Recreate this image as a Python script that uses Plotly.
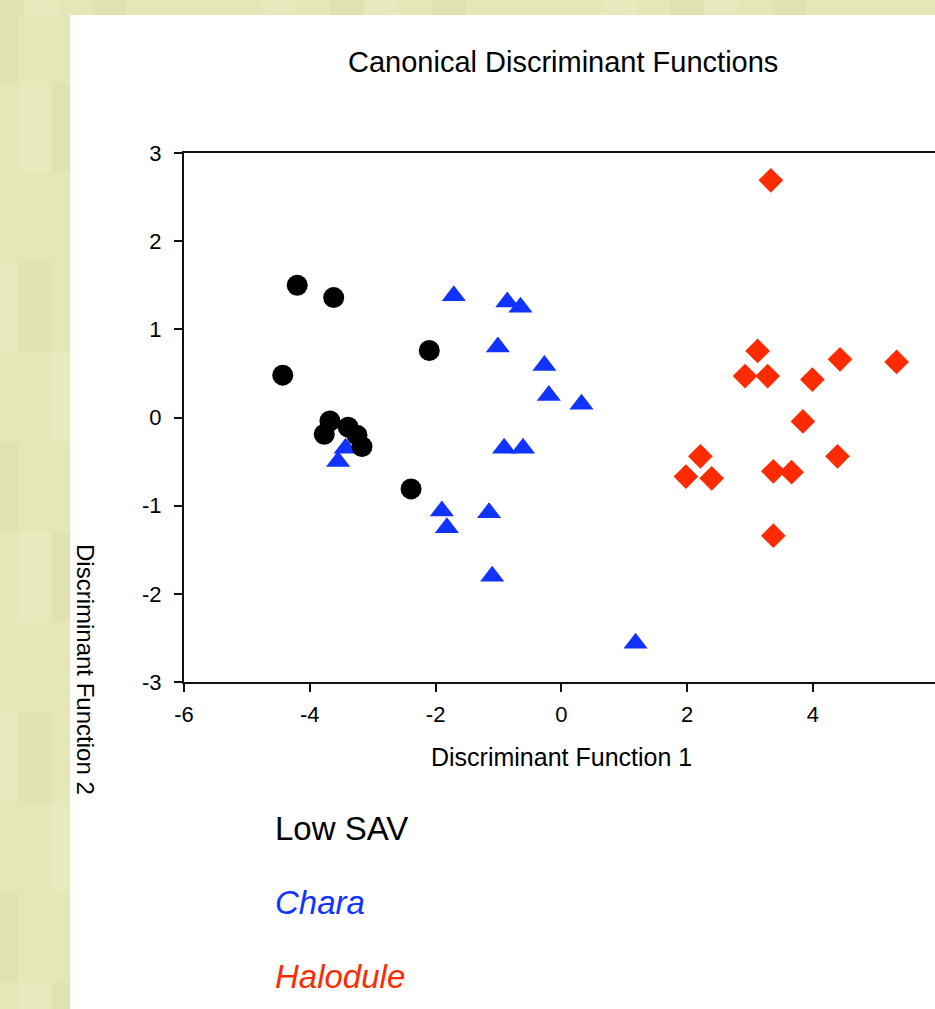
import plotly.graph_objects as go

# ---------------- data ----------------
groups = ["Low SAV", "Chara", "Halodule"]

low_sav_x = [-4.20, -3.62, -2.10, -4.43, -3.68, -3.77, -3.39, -3.25, -3.17, -2.39]
low_sav_y = [1.50, 1.36, 0.76, 0.48, -0.04, -0.19, -0.11, -0.20, -0.33, -0.81]

chara_x = [-1.71, -0.86, -0.65, -1.01, -0.27, -0.20, 0.32, -0.91, -0.61,
           -3.43, -3.55, -1.90, -1.82, -1.15, -1.10, 1.18]
chara_y = [1.38, 1.31, 1.25, 0.80, 0.59, 0.25, 0.15, -0.35, -0.35,
           -0.35, -0.50, -1.06, -1.25, -1.08, -1.80, -2.56]

halodule_x = [3.33, 3.12, 2.92, 3.28, 3.99, 4.43, 5.33, 3.84,
              2.21, 1.98, 2.39, 3.37, 3.66, 4.39, 3.37]
halodule_y = [2.69, 0.755, 0.47, 0.47, 0.43, 0.66, 0.63, -0.045,
              -0.44, -0.67, -0.69, -0.61, -0.62, -0.44, -1.34]

x_ticks = [-6, -4, -2, 0, 2, 4, 6]
y_ticks = [-3, -2, -1, 0, 1, 2, 3]

title_text = "Canonical Discriminant Functions"
x_title = "Discriminant Function 1"
y_title = "Discriminant Function 2"

# ---------------- style ----------------
FONT = "Arial, Liberation Sans, sans-serif"
BLACK = "#000000"
BLUE = "#1033ff"
RED = "#ff2b00"
BEIGE = "#e5e7b8"

W, H = 935, 1009
ML, MR, MT, MB = 184, 0, 153, 327
PW, PH = W - ML - MR, H - MT - MB


def px_to_paper_x(px):
    return (px - ML) / PW


def px_to_paper_y(py):
    return (H - MB - py) / PH


fig = go.Figure()

fig.add_trace(go.Scatter(
    x=chara_x, y=chara_y, mode="markers", name=groups[1],
    marker=dict(symbol="triangle-up", size=21, color=BLUE, line=dict(width=0)),
))
fig.add_trace(go.Scatter(
    x=halodule_x, y=halodule_y, mode="markers", name=groups[2],
    marker=dict(symbol="diamond", size=19, color=RED, line=dict(width=0)),
))
fig.add_trace(go.Scatter(
    x=low_sav_x, y=low_sav_y, mode="markers", name=groups[0],
    marker=dict(symbol="circle", size=21, color=BLACK, line=dict(width=0)),
))

# background decoration: subtle beige checker on the left strip and top strip, white panel
shapes = []
cell_w, cell_h = 34, 30
for i in range(0, 3):
    for j in range(0, 35):
        v = (i * 7 + j * 5 + (j // 3)) % 5
        if v == 0:
            col = "#e0e2b1"
        elif v == 3:
            col = "#e8eabd"
        else:
            continue
        x0, y0 = i * cell_w - 16, j * cell_h - 8
        shapes.append(dict(type="rect", xref="paper", yref="paper",
                           x0=px_to_paper_x(x0), x1=px_to_paper_x(x0 + cell_w),
                           y0=px_to_paper_y(y0 + cell_h), y1=px_to_paper_y(y0),
                           fillcolor=col, line=dict(width=0), layer="below"))
for i in range(0, 29):
    v = (i * 3 + i // 2) % 5
    if v == 0:
        col = "#e0e2b1"
    elif v == 3:
        col = "#e8eabd"
    else:
        continue
    x0 = i * cell_w - 10
    shapes.append(dict(type="rect", xref="paper", yref="paper",
                       x0=px_to_paper_x(x0), x1=px_to_paper_x(x0 + cell_w),
                       y0=px_to_paper_y(15), y1=px_to_paper_y(-10),
                       fillcolor=col, line=dict(width=0), layer="below"))
shapes.append(dict(type="rect", xref="paper", yref="paper",
                   x0=px_to_paper_x(70), x1=px_to_paper_x(W + 10),
                   y0=px_to_paper_y(H + 10), y1=px_to_paper_y(15),
                   fillcolor="white", line=dict(width=0), layer="below"))

annotations = [
    dict(text=title_text, xref="paper", yref="paper",
         x=px_to_paper_x(562.5), y=px_to_paper_y(62), xanchor="center", yanchor="middle",
         showarrow=False, font=dict(family=FONT, size=29, color="black")),
    dict(text=x_title, xref="paper", yref="paper",
         x=px_to_paper_x(561.5), y=px_to_paper_y(757), xanchor="center", yanchor="middle",
         showarrow=False, font=dict(family=FONT, size=25, color="black")),
    dict(text=y_title, xref="paper", yref="paper", textangle=90,
         x=px_to_paper_x(86), y=px_to_paper_y(669), xanchor="center", yanchor="middle",
         showarrow=False, font=dict(family=FONT, size=24, color="black")),
]
legend_colors = [BLACK, BLUE, RED]
legend_y = [828, 902, 976]
for k, g in enumerate(groups):
    txt = g if k == 0 else "<i>" + g + "</i>"
    annotations.append(dict(text=txt, xref="paper", yref="paper",
                            x=px_to_paper_x(273), y=px_to_paper_y(legend_y[k]),
                            xanchor="left", yanchor="middle", showarrow=False,
                            font=dict(family=FONT, size=33, color=legend_colors[k])))

fig.update_layout(
    width=W, height=H,
    margin=dict(l=ML, r=MR, t=MT, b=MB, pad=0),
    paper_bgcolor=BEIGE, plot_bgcolor="white",
    showlegend=False,
    shapes=shapes, annotations=annotations,
    font=dict(family=FONT, size=22, color="black"),
)
fig.update_xaxes(
    range=[-6, 5.94], tickmode="array", tickvals=x_ticks, ticktext=[str(t) for t in x_ticks],
    showgrid=False, zeroline=False, showline=True, linecolor="#111", linewidth=2,
    mirror=True, ticks="outside", ticklen=8, tickwidth=1.5, tickcolor="#111",
    tickfont=dict(family=FONT, size=22, color="black"), ticklabelstandoff=4,
)
fig.update_yaxes(
    range=[-3, 3], tickmode="array", tickvals=y_ticks, ticktext=[str(t) for t in y_ticks],
    showgrid=False, zeroline=False, showline=True, linecolor="#111", linewidth=2,
    ticks="outside", ticklen=8, tickwidth=1.5, tickcolor="#111",
    tickfont=dict(family=FONT, size=22, color="black"), ticklabelstandoff=8,
)

fig.write_html("out.html", config={"displayModeBar": False},
               post_script="document.body.style.margin='0';document.body.style.overflow='hidden';")
